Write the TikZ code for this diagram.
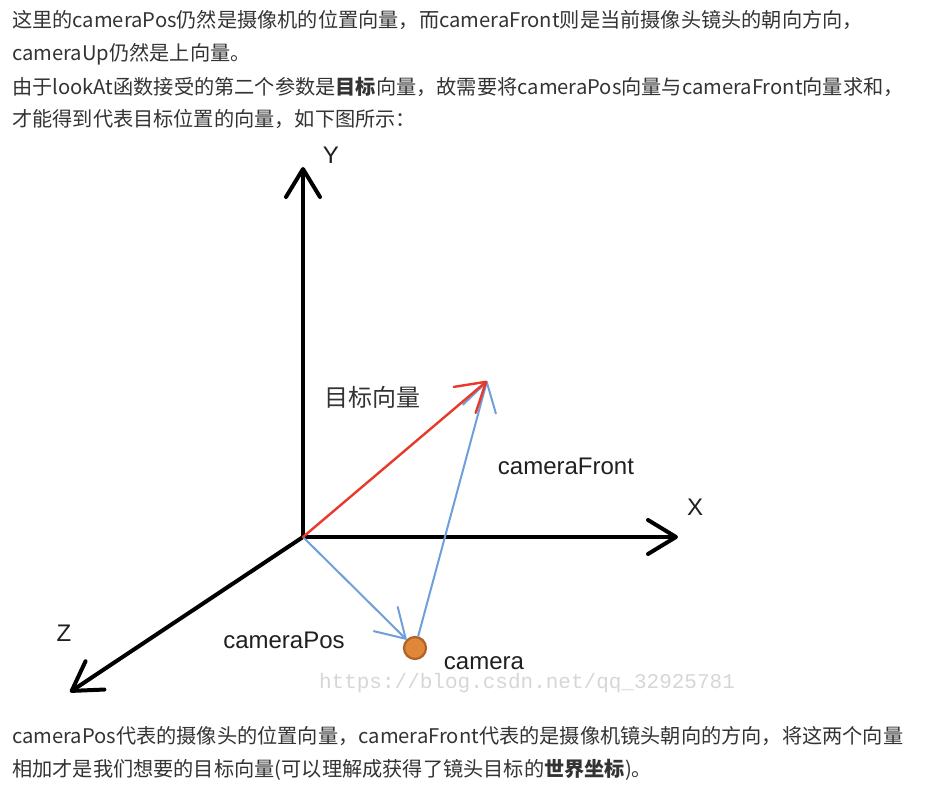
\documentclass[tikz,border=0pt]{standalone}
\usepackage{fontspec}
\setmainfont{Noto Sans CJK SC}
\newfontfamily\labelfont{Liberation Sans}
\newfontfamily\wmfont{Liberation Mono}
\usetikzlibrary{arrows.meta}
\definecolor{txtgray}{HTML}{333333}
\definecolor{vecred}{HTML}{E8392B}
\definecolor{vecblue}{HTML}{6E9FDB}
\definecolor{camfill}{HTML}{E0873A}
\definecolor{camedge}{HTML}{B0622A}
\definecolor{wmgray}{HTML}{D6D6D6}

\begin{document}
\begin{tikzpicture}[x=1pt,y=-1pt,
    every node/.style={inner sep=0pt},
    para/.style={anchor=base west,font=\fontsize{20.2}{20.2}\selectfont,text=txtgray},
    lbl/.style={font=\labelfont\fontsize{24}{24}\selectfont,text=black!88},
    barb/.style={-{Straight Barb[length=28pt,width=34pt,round]}},
    axis/.style={barb,line width=4pt,line cap=round},
    vec/.style={barb,line cap=round}]
    \useasboundingbox (0,0) rectangle (927,797);
    \node[para] (p1) at (12,28) {这里的cameraPos仍然是摄像机的位置向量，而cameraFront则是当前摄像头镜头的朝向方向，};
    \node[para] (p2) at (12,61) {cameraUp仍然是上向量。};
    \node[para] (p3) at (12,95) {由于lookAt函数接受的第二个参数是{\bfseries 目标}向量，故需要将cameraPos向量与cameraFront向量求和，};
    \node[para] (p4) at (12,127) {才能得到代表目标位置的向量，如下图所示：};
    \coordinate (O) at (303,537);
    \coordinate (ytip) at (303,167);
    \coordinate (xtip) at (678,537);
    \coordinate (ztip) at (70,692);
    \coordinate (target) at (487,381);
    \node[circle,minimum size=22pt,fill=camfill,draw=camedge,line width=2.2pt] (camera) at (415,648) {};
    \draw[axis] (O) -- (ytip);
    \draw[axis] (O) -- (xtip);
    \draw[axis] (O) -- (ztip);
    \draw[vec,vecblue,line width=2pt] (O) -- (camera);
    \draw[vec,vecblue,line width=2pt] (camera) -- (target);
    \draw[vec,vecred,line width=2.4pt] (O) -- (target);
    \node[lbl] (ylbl) at (331,155) {Y};
    \node[lbl] (xlbl) at (695,507) {X};
    \node[lbl] (zlbl) at (64,633) {Z};
    \node[font=\fontsize{24}{24}\selectfont,text=black!80] (tgtlbl) at (372,397) {目标向量};
    \node[lbl] (frontlbl) at (566,466) {cameraFront};
    \node[lbl] (poslbl) at (284,640) {cameraPos};
    \node[lbl] (camlbl) at (484,663) {camera};
    \node[font=\wmfont\fontsize{21}{21}\selectfont,text=wmgray] (wm) at (527,683) {https://blog.csdn.net/qq\_32925781};
    \node[para] (p5) at (12,743) {cameraPos代表的摄像头的位置向量，cameraFront代表的是摄像机镜头朝向的方向，将这两个向量};
    \node[para] (p6) at (12,776) {相加才是我们想要的目标向量(可以理解成获得了镜头目标的{\bfseries 世界坐标})。};
\end{tikzpicture}
\end{document}
